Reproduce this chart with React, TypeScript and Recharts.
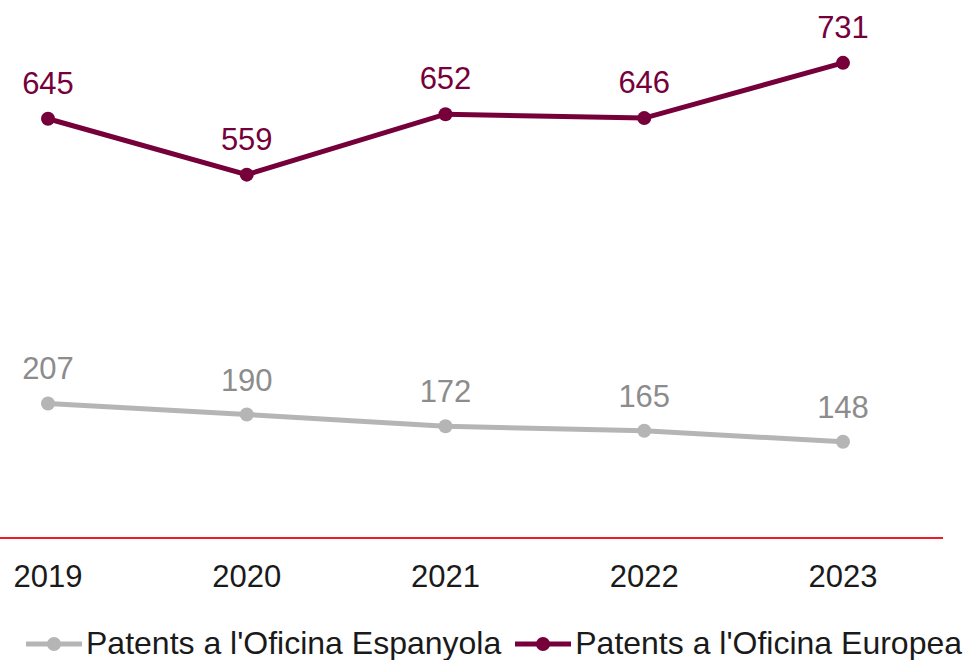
import React from "react";
import { LineChart, Line, XAxis, YAxis, LabelList, Legend } from "recharts";

const years = ["2019", "2020", "2021", "2022", "2023"];
const spanishOffice = [207, 190, 172, 165, 148];
const europeanOffice = [645, 559, 652, 646, 731];

const GREY = "#b5b5b5";
const MAROON = "#76003a";
const FONT = "'Liberation Sans', Arial, Helvetica, sans-serif";

const data = years.map((year, i) => ({
  year,
  spanish: spanishOffice[i],
  european: europeanOffice[i],
}));

const renderLegend = (props: any) => {
  const { payload } = props;
  return (
    <div style={{ display: "flex", alignItems: "center", whiteSpace: "nowrap" }}>
      {(payload || []).map((entry: any, i: number) => (
        <div
          key={i}
          style={{ display: "flex", alignItems: "center", marginRight: 14 }}
        >
          <svg width={56} height={16} style={{ marginRight: 4 }}>
            <line x1={0} y1={8} x2={56} y2={8} stroke={entry.color} strokeWidth={5} />
            <circle cx={28} cy={8} r={7} fill={entry.color} />
          </svg>
          <span style={{ fontSize: 32, color: "#1a1a1a", fontFamily: FONT }}>
            {entry.value}
          </span>
        </div>
      ))}
    </div>
  );
};

const App = () => {
  return (
    <div
      style={{
        position: "absolute",
        left: 0,
        top: 0,
        width: 966,
        height: 660,
        overflow: "hidden",
        background: "#fff",
        fontFamily: FONT,
      }}
    >
      <div style={{ position: "absolute", left: -52, top: 0 }}>
        <LineChart
          width={995}
          height={660}
          data={data}
          margin={{ top: 18, right: 0, left: 0, bottom: 0 }}
        >
          <XAxis
            dataKey="year"
            height={122}
            padding={{ left: 100, right: 100 }}
            axisLine={{ stroke: "#ee1c25", strokeWidth: 2 }}
            tickLine={false}
            tickMargin={21}
            tick={{ fill: "#1a1a1a", fontSize: 31, fontFamily: FONT }}
          />
          <YAxis hide domain={[0, 800]} />
          <Legend
            layout="horizontal"
            verticalAlign="middle"
            align="center"
            content={renderLegend}
            wrapperStyle={{ top: 625, left: 78, width: 1100 }}
          />
          <Line
            name="Patents a l'Oficina Espanyola"
            dataKey="spanish"
            stroke={GREY}
            strokeWidth={5}
            dot={{ r: 7, fill: GREY, stroke: "none" }}
            isAnimationActive={false}
          >
            <LabelList
              dataKey="spanish"
              position="top"
              offset={24}
              fill="#8c8c8c"
              fontSize={31}
              fontFamily={FONT}
            />
          </Line>
          <Line
            name="Patents a l'Oficina Europea"
            dataKey="european"
            stroke={MAROON}
            strokeWidth={5}
            dot={{ r: 7, fill: MAROON, stroke: "none" }}
            isAnimationActive={false}
          >
            <LabelList
              dataKey="european"
              position="top"
              offset={25}
              fill={MAROON}
              fontSize={31}
              fontFamily={FONT}
            />
          </Line>
        </LineChart>
      </div>
    </div>
  );
};

export default App;
